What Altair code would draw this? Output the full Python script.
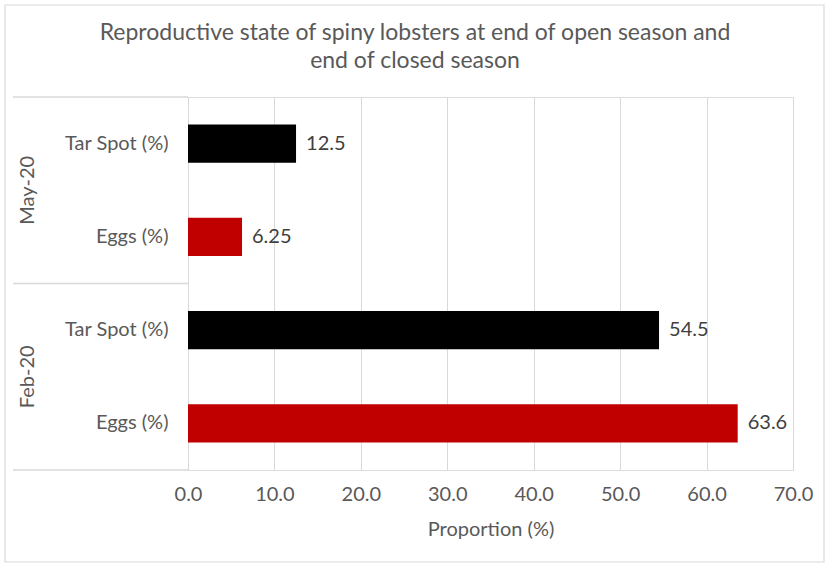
import altair as alt
import pandas as pd

groups = ["May-20", "May-20", "Feb-20", "Feb-20"]
categories = ["Tar Spot (%)", "Eggs (%)", "Tar Spot (%)", "Eggs (%)"]
values = [12.5, 6.25, 54.5, 63.6]
colors = ["#000000", "#C00000", "#000000", "#C00000"]
group_names = ["May-20", "Feb-20"]
title_lines = ["Reproductive state of spiny lobsters at end of open season and",
               "end of closed season"]
x_title = "Proportion (%)"

FONT = "Lato"
GRAY = "#595959"
LINE = "#D9D9D9"
FS = 20

keys = [f"{g}|{c}" for g, c in zip(groups, categories)]
df = pd.DataFrame({"key": keys, "group": groups, "cat": categories,
                   "value": values, "color": colors})

W, H = 605, 373
yscale = alt.Scale(domain=keys, paddingInner=0, paddingOuter=0)

base = alt.Chart(df)

bars = base.mark_bar(height={"band": 0.41}).encode(
    x=alt.X("value:Q", scale=alt.Scale(domain=[0, 70], nice=False),
            axis=alt.Axis(values=list(range(0, 71, 10)), format=".1f",
                          title=x_title, grid=True, gridColor=LINE, domain=False,
                          ticks=False, labelPadding=14, titlePadding=15,
                          labelFlush=False,
                          labelFontSize=FS, titleFontSize=FS, labelColor=GRAY,
                          titleColor=GRAY, labelFont=FONT, titleFont=FONT,
                          titleFontWeight="normal")),
    y=alt.Y("key:N", scale=yscale, sort=keys,
            axis=alt.Axis(title=None, labelExpr="split(datum.value, '|')[1]",
                          ticks=False, domain=True, domainColor=LINE, grid=False,
                          labelPadding=20, labelFontSize=FS, labelColor=GRAY,
                          labelFont=FONT)),
    color=alt.Color("color:N", scale=None),
)

labels = base.mark_text(align="left", baseline="middle", dx=10, fontSize=FS,
                        font=FONT, color="#404040").encode(
    x="value:Q", y=alt.Y("key:N", scale=yscale, sort=keys), text="value:Q")

first_keys = pd.DataFrame({"key": [keys[0], keys[2]]})
last_key = pd.DataFrame({"key": [keys[3]]})

sep_top = alt.Chart(first_keys).mark_rule(color=LINE, strokeWidth=1.5).encode(
    y=alt.Y("key:N", scale=yscale, sort=keys, bandPosition=0),
    x=alt.value(-175), x2=alt.value(0))
sep_bot = alt.Chart(last_key).mark_rule(color=LINE, strokeWidth=1.5).encode(
    y=alt.Y("key:N", scale=yscale, sort=keys, bandPosition=1),
    x=alt.value(-175), x2=alt.value(0))

grp_df = pd.DataFrame({"key": [keys[0], keys[2]], "group": group_names})
grp_labels = alt.Chart(grp_df).mark_text(angle=270, align="center", baseline="middle",
                                         fontSize=FS, font=FONT, color=GRAY).encode(
    y=alt.Y("key:N", scale=yscale, sort=keys, bandPosition=1),
    x=alt.value(-160), text="group:N")

one = pd.DataFrame({"a": [0]})
border = alt.Chart(one).mark_rect(
    fill=None, stroke=LINE, strokeWidth=1.2).encode(
    x=alt.value(-183), x2=alt.value(636), y=alt.value(-92), y2=alt.value(465))

title = alt.Chart(one).mark_text(
    text=title_lines, fontSize=23, font=FONT, color=GRAY, align="center",
    baseline="middle", lineHeight=28).encode(
    x=alt.value(227), y=alt.value(-64))

chart = alt.layer(border, bars, labels, sep_top, sep_bot, grp_labels, title).properties(
    width=W, height=H,
    autosize=alt.AutoSizeParams(type="none"),
    padding={"left": 188, "top": 97, "right": 36, "bottom": 95},
).configure_view(stroke=None).configure(background="white")

chart.save("out.html", embed_options={"renderer": "svg", "actions": False})
